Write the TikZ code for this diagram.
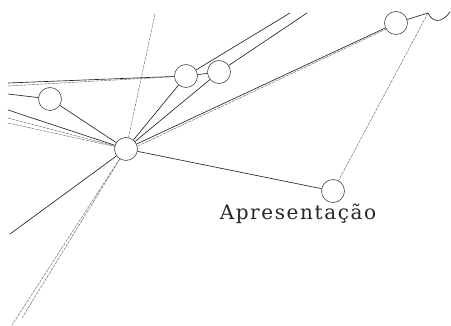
\documentclass[tikz,border=0pt]{standalone}
\usepackage{fontspec}
\newfontfamily\labelfont[LetterSpace=8]{DejaVu Serif}
\begin{document}
\begin{tikzpicture}[x=1pt,y=-1pt,
  hub/.style={circle,draw=black!70,line width=0.6pt,minimum size=23pt,inner sep=0pt},
  link/.style={draw=black!85,line width=0.65pt},
  faint/.style={draw=black!55,line width=0.5pt,dash pattern=on 3pt off 1pt},
]
\useasboundingbox[fill=white] (0,0) rectangle (451,326);
\node[hub] (A) at (50,99) {};
\node[hub] (B) at (126,149) {};
\node[hub] (C) at (186,76) {};
\node[hub] (D) at (219,72) {};
\node[hub] (E) at (396,23) {};
\node[hub] (G) at (333,191) {};
\node[font=\labelfont\fontsize{20}{24}\selectfont,text=black!85,inner sep=0pt] (T) at (298,214) {Apresentação};
\coordinate (L1) at (8,83);
\coordinate (L1b) at (8,86);
\coordinate (L2) at (8,94);
\coordinate (L3) at (8,110);
\coordinate (L4) at (8,118);
\coordinate (L5) at (8,123);
\coordinate (T1) at (155,14);
\coordinate (T2) at (290,13);
\coordinate (T3) at (307,13);
\coordinate (F) at (428,13);
\coordinate (R) at (450,12);
\coordinate (S1) at (10,234);
\coordinate (S2) at (12,325);
\coordinate (S3) at (22,318);
\draw[link] (L1) -- (C);
\draw[faint] (L1b) -- (C);
\draw[link] (L2) -- (A);
\draw[link] (L3) -- (B);
\draw[faint] (L4) -- (B);
\draw[faint] (L5) -- (B);
\draw[link] (A) -- (B);
\draw[link] (B) -- (C);
\draw[link] (B) -- (D);
\draw[link] (B) -- (E);
\draw[faint] ([yshift=3pt]B.east) -- ([yshift=3pt]E.south west);
\draw[link] (B) -- (G);
\draw[link] (C) -- (D);
\draw[link] (C) -- (T2);
\draw[link] (D) -- (T3);
\draw[faint] (T1) -- (B);
\draw[link] (B) -- (S1);
\draw[faint] (B) -- (S2);
\draw[faint] (B) -- (S3);
\draw[link] (E) -- (F);
\draw[faint] (F) -- (G);
\draw[link] (F) .. controls (433,24) and (443,22) .. (R);
\end{tikzpicture}
\end{document}
